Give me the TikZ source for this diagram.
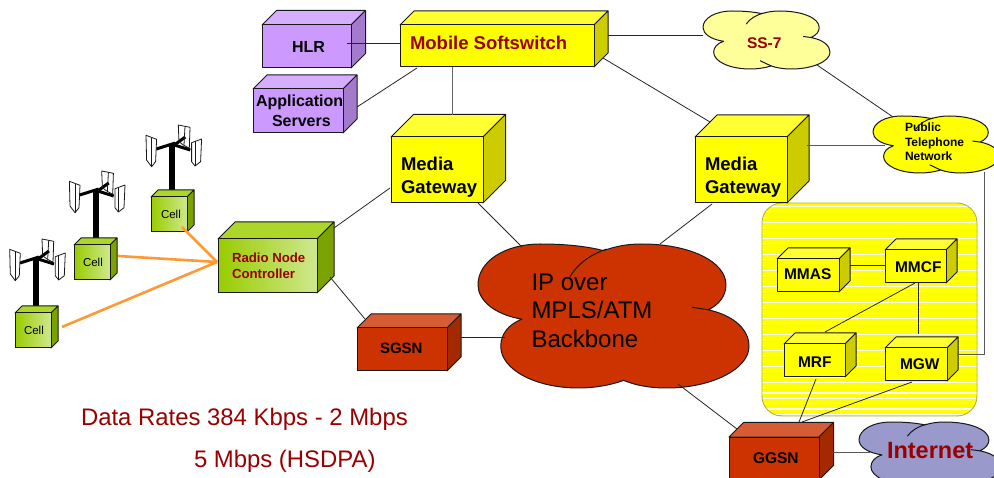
\documentclass[tikz,border=0pt]{standalone}
\usepackage{fontspec}
\setmainfont{Liberation Sans}
\definecolor{yelF}{HTML}{FFFF00}\definecolor{yelT}{HTML}{FFFF33}\definecolor{yelS}{HTML}{CCCC00}
\definecolor{purF}{HTML}{CC99FF}\definecolor{purT}{HTML}{D6ADFF}\definecolor{purS}{HTML}{A37ACC}
\definecolor{redF}{HTML}{CC3300}\definecolor{redT}{HTML}{D65C33}\definecolor{redS}{HTML}{A32900}
\definecolor{grnF}{HTML}{99CC00}\definecolor{grnL}{HTML}{CFE88F}\definecolor{grnT}{HTML}{ADD62B}\definecolor{grnS}{HTML}{7AA300}
\definecolor{darkred}{HTML}{990000}
\definecolor{orangeline}{HTML}{FF9933}
\definecolor{palecloud}{HTML}{FFFF99}
\definecolor{bluecloud}{HTML}{9999CC}
\definecolor{subnetedge}{HTML}{B0B040}
\tikzset{
  outline/.style={draw=black!90,line width=1pt,line join=round},
  yelface/.style={fill=yelF},
  purface/.style={fill=purF},
  redface/.style={fill=redF},
  grnface/.style={left color=grnF,right color=grnL},
  lbl/.style={inner sep=0pt,outer sep=0pt,anchor=base west,align=left,text=black},
  link/.style={draw=black!85,line width=0.8pt},
  radiolink/.style={draw=orangeline,line width=2.6pt},
  hollow/.style={inner sep=0pt,outer sep=0pt,rectangle},
}
% name, x0, y0, x1, y1, depth, colour family
\newcommand{\cubebox}[7]{%
  \path[outline,fill=#7T] (#2,#3) -- ({#2+#6},{#3-#6}) -- ({#4+#6},{#3-#6}) -- (#4,#3) -- cycle;
  \path[outline,fill=#7S] (#4,#3) -- ({#4+#6},{#3-#6}) -- ({#4+#6},{#5-#6}) -- (#4,#5) -- cycle;
  \node[outline,#7face,inner sep=0pt,outer sep=0pt,anchor=north west,
        minimum width={(#4-#2)*1pt},minimum height={(#5-#3)*1pt}] (#1) at (#2,#3) {};
}
% name, x0, y0, x1, y1, fill, extra inner detail
\newcommand{\cloudshape}[7]{%
  \node[hollow,anchor=north west,minimum width={(#4-#2)*1pt},minimum height={(#5-#3)*1pt}] (#1) at (#2,#3) {};
  \pgfmathsetmacro{\cw}{#4-#2}\pgfmathsetmacro{\ch}{#5-#3}
  \begin{scope}[shift={(#2,#3)},x=\cw pt,y=-\ch pt]
    \path[outline,fill=#6] (.162,.522) .. controls (.06,.49) and (0,.39) .. (0,.284)
      .. controls (0,.12) and (.10,0) .. (.23,0)
      .. controls (.32,0) and (.40,.015) .. (.463,.046)
      .. controls (.51,.015) and (.55,0) .. (.604,0)
      .. controls (.78,0) and (.915,.12) .. (.915,.284)
      .. controls (.915,.36) and (.89,.42) .. (.85,.457)
      .. controls (.95,.50) and (1,.60) .. (1,.711)
      .. controls (1,.87) and (.86,1) .. (.697,1)
      .. controls (.63,1) and (.58,.98) .. (.537,.947)
      .. controls (.49,.98) and (.43,1) .. (.371,1)
      .. controls (.21,1) and (.084,.87) .. (.084,.711)
      .. controls (.084,.63) and (.11,.56) .. (.162,.522) -- cycle;
    \path[outline] (.34,.226) .. controls (.37,.13) and (.42,.07) .. (.475,.035);
    \path[outline] (.789,.439) -- (.85,.457);
    #7
  \end{scope}
}
\newcommand{\bottomtick}{\path[outline] (.45,.856) .. controls (.48,.89) and (.51,.92) .. (.537,.947);}
% hub x, hub y, base y
\newcommand{\mast}[3]{%
  \begin{scope}[shift={(#1,#2)}]
    \fill[black] (-3,0) rectangle (3,{#3-#2});
    \draw[black,line width=3pt] (-16,5) -- (3,-1);
    \draw[black,line width=3pt] (2,1) -- (18,6);
    \draw[black,line width=3pt] (2,1) -- (13,-7);
    \draw[outline,fill=white,line width=.8pt] (-26.3,-8.7) -- (-15.7,-4.7) -- (-16.7,17.7) -- (-20.7,22.7) -- (-25.7,16) -- cycle;
    \draw[outline,line width=.8pt] (-20.7,-6.2) -- (-20.7,22.7);
    \draw[outline,line width=.8pt] (6,-19) -- (17.7,-16.7) -- (17,4.3) -- (11,1) -- (6.7,-2.3) -- cycle;
    \draw[outline,line width=.8pt] (12.7,-17.6) -- (11.7,1);
    \draw[outline,fill=white,line width=.8pt] (19.3,-1.3) -- (29.3,-5) -- (28.3,17.7) -- (22.7,22) -- (19.3,17.7) -- cycle;
    \draw[outline,line width=.8pt] (22.7,-2.5) -- (22.7,22);
  \end{scope}
}
\newcommand{\fs}[1]{\fontsize{#1}{#1}\selectfont}
\begin{document}
\begin{tikzpicture}[x=1pt,y=-1pt]
\useasboundingbox (0,0) rectangle (994,478);
\fill[white] (0,0) rectangle (994,478);
\clip (0,0) rectangle (994,478);

% striped IMS region
\node[hollow,anchor=north west,minimum width=215pt,minimum height=213pt,rounded corners=20pt,fill=yelF] (ims) at (762,203) {};
\begin{scope}
  \clip[rounded corners=20pt] (762,203) rectangle (977,416);
  \foreach \k in {0,...,40}{
    \draw[white,line width=1.1pt] (762,{206.5+\k*5.33}) -- (977,{206.5+\k*5.33});
  }
\end{scope}
\draw[subnetedge,line width=.9pt,rounded corners=20pt] (ims.north west) rectangle (ims.south east);

% masts
\mast{172.3}{144}{190}
\mast{95.7}{190}{238}
\mast{36}{258}{307}

% boxes
\cubebox{hlr}{262}{25}{351}{68}{14.5}{pur}
\cubebox{app}{253}{89}{343}{133}{14}{pur}
\cubebox{soft}{400}{25}{594}{67}{14}{yel}
\cubebox{mgA}{391}{137}{483}{203}{22.5}{yel}
\cubebox{mgB}{695}{137}{787}{203}{22}{yel}
\cubebox{cellC}{151}{197}{187}{232}{7}{grn}
\cubebox{cellB}{74}{245}{110}{280}{7}{grn}
\cubebox{cellA}{15}{313}{51}{348}{7}{grn}
\cubebox{rnc}{218}{239}{317}{293}{17}{grn}
\cubebox{sgsn}{357}{328}{447}{371}{14}{red}
\cubebox{ggsn}{729}{437}{819}{480}{14.5}{red}
\cubebox{mmas}{777}{259}{839}{292}{11}{yel}
\cubebox{mmcf}{885}{250}{946}{283}{11}{yel}
\cubebox{mrf}{784}{344}{845}{377}{11}{yel}
\cubebox{mgw}{885}{348}{947}{381}{11}{yel}

% clouds
\cloudshape{ss}{703}{11}{830}{69}{palecloud}{\bottomtick}
\cloudshape{ptn}{873}{116}{999}{173}{yelF}{\bottomtick}
\cloudshape{bb}{478}{244}{749}{388}{redF}{}
\cloudshape{inet}{859}{422}{1001}{485}{bluecloud}{}

% connectors
\draw[link] ([shift={(40.5,-3.5)}]hlr.center) -- ([shift={(0,-3)}]soft.west);
\draw[link] ([shift={(59,-4)}]app.center) -- ([shift={(-80,22)}]soft.center);
\draw[link,black!60] ([shift={(-45,21)}]soft.center) -- ([shift={(15,-55)}]mgA.center);
\draw[link] ([shift={(111,-11)}]soft.center) -- ([shift={(-63.5,-5)}]ss.center);
\draw[link] ([shift={(106,12)}]soft.center) -- ([shift={(-31,-48)}]mgB.center);
\draw[link] ([shift={(50.5,25)}]ss.center) -- ([shift={(-43,-27.5)}]ptn.center);
\draw[link,black!65] ([shift={(66,-25)}]mgB.center) -- ([shift={(-51,.5)}]ptn.center);
\draw[link,black!65] ([shift={(48,27.5)}]ptn.center) |- ([shift={(41,-10.5)}]mgw.center);
\draw[link] ([shift={(-47,18)}]mgA.center) -- ([shift={(66.5,-38)}]rnc.center);
\draw[link] ([shift={(41,33)}]mgA.center) -- ([shift={(-91.5,-69)}]bb.center);
\draw[link] ([shift={(-29,34)}]mgB.center) -- ([shift={(46.5,-72)}]bb.center);
\draw[link] ([shift={(62.5,11)}]rnc.center) -- ([shift={(-37,-30.5)}]sgsn.center);
\draw[link] ([shift={(59,-12.5)}]sgsn.center) -- ([shift={(-108.5,21)}]bb.center);
\draw[link] ([shift={(64.5,68)}]bb.center) -- ([shift={(-37,-29.5)}]ggsn.center);
\draw[link,black!65] ([shift={(59,-6.5)}]ggsn.center) -- ([shift={(-60,-1.5)}]inet.center);
\draw[link] ([shift={(42,-10.5)}]mmas.center) -- ([shift={(-30.5,-1.5)}]mmcf.center);
\draw[link] ([shift={(-.5,16.5)}]mmcf.center) -- ([shift={(10.5,-28.5)}]mrf.center);
\draw[link] ([shift={(2.5,16.5)}]mmcf.center) -- ([shift={(2,-30.5)}]mgw.center);
\draw[link] ([shift={(1.5,18.5)}]mrf.center) -- ([shift={(25,-36.5)}]ggsn.center);
\draw[link] ([shift={(-4,17.5)}]mgw.center) -- ([shift={(28,-36.5)}]ggsn.center);
\draw[radiolink] ([shift={(13,12.5)}]cellC.center) -- ([shift={(-1,-4)}]rnc.west);
\draw[radiolink] ([shift={(26,-6.5)}]cellB.center) -- ([shift={(-1,-4)}]rnc.west);
\draw[radiolink] ([shift={(29,-3.5)}]cellA.center) -- ([shift={(-1,-4)}]rnc.west);

% labels
\node[lbl,font=\fs{16}\bfseries] (tHlr) at (292,53) {HLR};
\node[lbl,font=\fs{16}\bfseries] (tApp) at (256,107) {Application};
\node[lbl,font=\fs{16}\bfseries] (tSrv) at (272,127) {Servers};
\node[lbl,font=\fs{18.5}\bfseries,text=darkred] (tSoft) at (410,50) {Mobile Softswitch};
\node[lbl,font=\fs{18.5}\bfseries] (tMa1) at (401,171) {Media};
\node[lbl,font=\fs{18.5}\bfseries] (tMa2) at (401,194) {Gateway};
\node[lbl,font=\fs{18.5}\bfseries] (tMb1) at (705,171) {Media};
\node[lbl,font=\fs{18.5}\bfseries] (tMb2) at (705,194) {Gateway};
\node[lbl,font=\fs{15.5}\bfseries,text=darkred] (tSs) at (747,49) {SS-7};
\node[lbl,font=\fs{12}\bfseries] (tP1) at (905,132) {Public};
\node[lbl,font=\fs{12}\bfseries] (tP2) at (905,146.5) {Telephone};
\node[lbl,font=\fs{12}\bfseries] (tP3) at (905,160.5) {Network};
\node[lbl,font=\fs{11.5}] (tC3) at (161,218.5) {Cell};
\node[lbl,font=\fs{11.5}] (tC2) at (83,266.5) {Cell};
\node[lbl,font=\fs{11.5}] (tC1) at (24,334.5) {Cell};
\node[lbl,font=\fs{13.2}\bfseries,text=darkred] (tR1) at (232,263) {Radio Node};
\node[lbl,font=\fs{13.2}\bfseries,text=darkred] (tR2) at (232,279) {Controller};
\node[lbl,font=\fs{15}\bfseries] (tSg) at (380,354) {SGSN};
\node[lbl,font=\fs{24}] (tB1) at (531.5,291) {IP over};
\node[lbl,font=\fs{24}] (tB2) at (531.5,319) {MPLS/ATM};
\node[lbl,font=\fs{24}] (tB3) at (531.5,348) {Backbone};
\node[lbl,font=\fs{15.5}\bfseries] (tGg) at (753,463) {GGSN};
\node[lbl,font=\fs{23.5}\bfseries,text=darkred] (tIn) at (887,458) {Internet};
\node[lbl,font=\fs{15.5}\bfseries] (tMm) at (784,280) {MMAS};
\node[lbl,font=\fs{15.5}\bfseries] (tMc) at (895,273) {MMCF};
\node[lbl,font=\fs{15.5}\bfseries] (tMr) at (798,368) {MRF};
\node[lbl,font=\fs{15.5}\bfseries] (tMg) at (900,370) {MGW};
\node[lbl,font=\fs{23.9},text=darkred] (tD1) at (81,425.5) {Data Rates 384 Kbps - 2 Mbps};
\node[lbl,font=\fs{23.9},text=darkred] (tD2) at (194,467.5) {5 Mbps (HSDPA)};
\end{tikzpicture}
\end{document}
